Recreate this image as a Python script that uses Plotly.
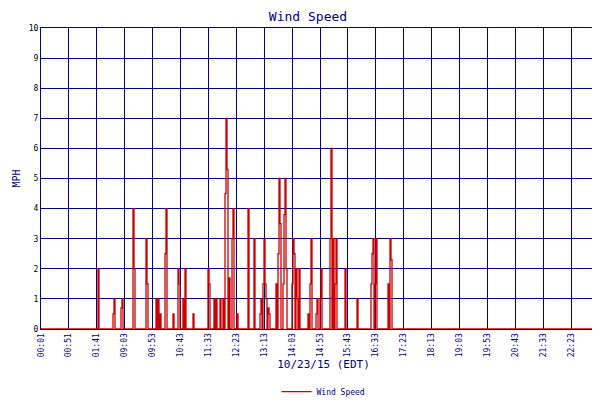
import plotly.graph_objects as go

# samples (one per ~2.5 min), index 0 = 00:01
tick_labels = ["00:01", "00:51", "01:41", "09:03", "09:53", "10:43", "11:33", "12:23",
               "13:13", "14:03", "14:53", "15:43", "16:33", "17:23", "18:13", "19:03",
               "19:53", "20:43", "21:33", "22:23", "23:13", "23:37"]
tick_pos = [0, 27.9, 55.8, 83.7, 111.6, 139.5, 167.4, 195.3, 223.2, 251.1, 279, 306.9,
            334.8, 362.7, 390.6, 418.5, 446.4, 474.3, 502.2, 530.1, 558, 565]

spike_idx = [57, 72, 73, 80, 81, 92, 93, 105, 106, 115, 117, 119, 124, 125, 132, 137, 138,
             142, 144, 152, 167, 168, 173, 175, 179, 182, 184, 185, 186, 188, 191, 192, 196,
             207, 213, 219, 220, 222, 223, 224, 225, 227, 228, 235, 237, 238, 239, 242, 243,
             244, 245, 251, 252, 253, 255, 256, 258, 267, 269, 270, 275, 276, 279, 280, 289,
             290, 292, 294, 295, 304, 316, 330, 331, 332, 334, 335, 347, 349, 350]
spike_val = [2, 0.5, 1, 0.7, 1, 4, 2, 3, 1.5, 1, 1, 0.5, 2.5, 4, 0.5, 2, 1.5, 1, 2, 0.5,
             2, 1.5, 1, 1, 1, 1, 4.5, 7, 5.3, 1.7, 3, 4, 0.5, 4, 3, 0.5, 1, 1.5, 3, 1.5,
             1, 0.7, 0.5, 1.5, 2.5, 5, 3.5, 1.5, 3.8, 5, 2, 1.5, 3, 2.5, 2, 1, 2, 0.5, 1.5,
             3, 0.5, 1, 1, 2, 3, 6, 3, 1.5, 3, 2, 1, 1.5, 2.5, 3, 1.5, 3, 1.5, 3, 2.3]

n = 566
speed = [0.0] * n
for i, v in zip(spike_idx, spike_val):
    speed[i] = v

navy = "#000080"
mono = "DejaVu Sans Mono"

fig = go.Figure()
fig.add_trace(go.Scatter(x=list(range(n)), y=speed, mode="lines", line_shape="hv",
                         line=dict(color="#cc0000", width=1.3), name="Wind Speed"))

fig.update_layout(
    width=600, height=400,
    margin=dict(l=33, r=2, t=20, b=63),
    paper_bgcolor="white", plot_bgcolor="white",
    font=dict(family=mono, color=navy, size=9),
    title=dict(text="Wind Speed", x=0.5, y=0.99, xanchor="center", yanchor="top",
               font=dict(size=13, color=navy, family=mono)),
    showlegend=True,
    legend=dict(orientation="h", x=0.5, xanchor="center", y=-0.16, yanchor="top",
                font=dict(size=8, color=navy, family=mono)),
    xaxis=dict(range=[0, 565], tickvals=tick_pos, ticktext=tick_labels, tickangle=-90,
               showgrid=True, gridcolor=navy, gridwidth=1, showline=True, linecolor=navy,
               mirror=True, linewidth=1, zeroline=False, ticks="", automargin=False,
               tickfont=dict(size=8),
               title=dict(text="10/23/15 (EDT)", font=dict(size=11, family=mono, color=navy),
                          standoff=4)),
    yaxis=dict(range=[0, 10], dtick=1, showgrid=True, gridcolor=navy, gridwidth=1,
               showline=True, linecolor=navy, mirror=True, linewidth=1, zeroline=False,
               ticks="", tickfont=dict(size=8, color="black"), automargin=False,
               title=dict(text="MPH", font=dict(size=10, family=mono, color=navy), standoff=6)),
)

fig.write_html("out.html")
